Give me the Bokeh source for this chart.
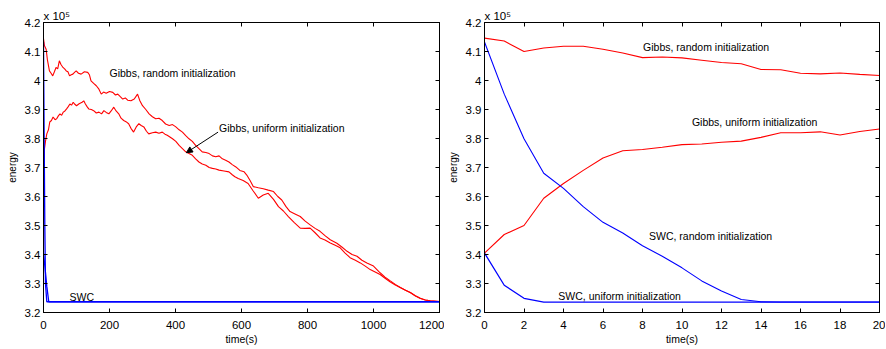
from bokeh.plotting import figure
from bokeh.models import (FixedTicker, LinearAxis, Label, Arrow, NormalHead, Range1d)
from bokeh.layouts import row
from bokeh.embed import file_html
from bokeh.resources import INLINE

# ---------------- data (energy in units of 1e5) ----------------
# Left panel: long run
gibbs_rand_t = [0, 3, 8, 12, 18, 23, 28, 33, 38, 43, 48, 53, 59, 64, 69, 74, 79, 84, 89, 94, 99, 106, 114,
                124, 134, 139, 144, 152, 160, 168, 175, 182, 190, 200, 210, 218, 225, 232, 240, 248, 255,
                265, 275, 285, 292, 300, 310, 320, 330, 340, 350, 360, 370, 381, 391, 401, 411, 421, 431,
                441, 451, 461, 471, 481, 492, 502, 512, 522, 532, 542, 552, 562, 572, 583, 595, 608, 616,
                626, 636, 651, 666, 681, 697, 710, 722, 735, 747, 762, 778, 793, 808, 823, 838, 853, 869,
                889, 905, 920, 935, 950, 965, 980, 1000, 1020, 1035, 1051, 1066, 1081, 1097, 1112, 1127,
                1142, 1157, 1172, 1200]
gibbs_rand_v = [4.145, 4.12, 4.108, 4.07, 4.033, 4.025, 4.016, 4.03, 4.045, 4.04, 4.068, 4.055, 4.045, 4.04,
                4.033, 4.03, 4.016, 4.02, 4.022, 4.028, 4.033, 4.025, 4.022, 4.03, 4.028, 4.02, 3.999, 3.99,
                3.982, 3.97, 3.953, 3.96, 3.956, 3.962, 3.959, 3.95, 3.953, 3.945, 3.936, 3.94, 3.932, 3.93,
                3.936, 3.953, 3.93, 3.913, 3.9, 3.885, 3.875, 3.868, 3.87, 3.862, 3.85, 3.845, 3.848, 3.84,
                3.83, 3.822, 3.81, 3.799, 3.79, 3.776, 3.765, 3.754, 3.752, 3.748, 3.74, 3.737, 3.74, 3.73,
                3.725, 3.719, 3.71, 3.702, 3.69, 3.685, 3.674, 3.655, 3.634, 3.63, 3.627, 3.622, 3.617, 3.6,
                3.588, 3.565, 3.548, 3.54, 3.531, 3.515, 3.502, 3.49, 3.48, 3.465, 3.451, 3.439, 3.425,
                3.411, 3.4, 3.394, 3.38, 3.371, 3.36, 3.337, 3.322, 3.309, 3.297, 3.286, 3.277, 3.269,
                3.257, 3.248, 3.243, 3.24, 3.238]

gibbs_unif_t = [0, 1, 3, 6, 10, 15, 19, 24, 29, 35, 40, 45, 50, 55, 60, 65, 70, 75, 80, 85, 90, 95, 100,
                108, 117, 122, 127, 132, 137, 145, 152, 160, 168, 176, 183, 190, 198, 205, 213, 220, 228,
                235, 243, 250, 258, 265, 273, 281, 289, 296, 304, 312, 319, 330, 340, 350, 360, 368, 375,
                383, 391, 401, 411, 421, 431, 441, 451, 461, 471, 481, 492, 502, 512, 522, 532, 547, 562,
                572, 580, 590, 605, 620, 635, 651, 666, 681, 697, 712, 727, 742, 760, 778, 793, 808, 823,
                838, 853, 869, 884, 899, 914, 929, 945, 960, 975, 990, 1005, 1020, 1035, 1051, 1066, 1081,
                1097, 1112, 1127, 1142, 1157, 1172, 1200]
gibbs_unif_v = [3.405, 3.6, 3.765, 3.79, 3.816, 3.83, 3.857, 3.862, 3.874, 3.865, 3.868, 3.878, 3.885, 3.88,
                3.891, 3.895, 3.902, 3.91, 3.919, 3.915, 3.925, 3.918, 3.913, 3.92, 3.925, 3.93, 3.919, 3.91,
                3.902, 3.9, 3.896, 3.888, 3.891, 3.885, 3.896, 3.89, 3.885, 3.895, 3.908, 3.895, 3.885, 3.87,
                3.862, 3.858, 3.851, 3.835, 3.822, 3.84, 3.851, 3.845, 3.84, 3.825, 3.816, 3.82, 3.822,
                3.818, 3.822, 3.815, 3.811, 3.805, 3.799, 3.79, 3.776, 3.765, 3.754, 3.748, 3.742, 3.73,
                3.719, 3.712, 3.708, 3.7, 3.697, 3.695, 3.691, 3.688, 3.685, 3.675, 3.668, 3.662, 3.655,
                3.645, 3.62, 3.594, 3.605, 3.611, 3.59, 3.565, 3.55, 3.531, 3.51, 3.491, 3.49, 3.491, 3.475,
                3.457, 3.45, 3.44, 3.432, 3.423, 3.405, 3.389, 3.38, 3.371, 3.36, 3.348, 3.34, 3.331, 3.318,
                3.305, 3.295, 3.286, 3.277, 3.268, 3.258, 3.249, 3.243, 3.24, 3.238]

swc_rand_long_t = [0, 2, 4, 6, 10, 1200]
swc_rand_long_v = [4.133, 3.8, 3.5, 3.3, 3.237, 3.237]
swc_unif_long_t = [0, 5, 10, 16, 1200]
swc_unif_long_v = [3.405, 3.35, 3.29, 3.237, 3.237]

# Right panel: first 20 seconds
short_t = list(range(21))
gibbs_rand_short = [4.146, 4.136, 4.100, 4.112, 4.118, 4.118, 4.108, 4.095, 4.079, 4.081, 4.078,
                    4.070, 4.062, 4.058, 4.038, 4.037, 4.025, 4.023, 4.026, 4.021, 4.017]
gibbs_unif_short = [3.405, 3.469, 3.500, 3.594, 3.645, 3.690, 3.733, 3.758, 3.762, 3.770, 3.779,
                    3.781, 3.787, 3.791, 3.804, 3.820, 3.820, 3.823, 3.812, 3.824, 3.833]
swc_rand_short = [4.133, 3.953, 3.799, 3.680, 3.628, 3.565, 3.511, 3.474, 3.430, 3.394, 3.354,
                  3.309, 3.274, 3.245, 3.237, 3.236, 3.236, 3.236, 3.236, 3.236, 3.236]
swc_unif_short = [3.405, 3.294, 3.249, 3.236, 3.236, 3.236, 3.236, 3.236, 3.236, 3.236, 3.236,
                  3.236, 3.236, 3.236, 3.236, 3.236, 3.236, 3.236, 3.236, 3.236, 3.236]

y_ticks = [3.2, 3.3, 3.4, 3.5, 3.6, 3.7, 3.8, 3.9, 4.0, 4.1, 4.2]
y_tick_labels = ["3.2", "3.3", "3.4", "3.5", "3.6", "3.7", "3.8", "3.9", "4", "4.1", "4.2"]
x_ticks_long = [0, 200, 400, 600, 800, 1000, 1200]
x_ticks_short = [0, 2, 4, 6, 8, 10, 12, 14, 16, 18, 20]

RED = "#ff0000"
BLUE = "#0000ff"
FONT = "Liberation Sans"


def make_fig(width, border_left, border_right, xmax, xticks):
    p = figure(width=width, height=347, output_backend="svg", toolbar_location=None,
               x_range=Range1d(0, xmax), y_range=Range1d(3.2, 4.2),
               min_border_left=border_left, min_border_right=border_right,
               min_border_top=22, min_border_bottom=33)
    p.grid.visible = False
    p.outline_line_color = "black"
    p.outline_line_width = 1
    p.background_fill_color = "white"
    p.border_fill_color = "white"
    # multiplier shown as a left-aligned title
    p.title.text = "x 10\u2075"
    p.title.align = "left"
    p.title.offset = 0
    p.title.standoff = 1
    p.title.text_font = FONT
    p.title.text_font_size = "11.5px"
    p.title.text_font_style = "normal"
    p.title.text_color = "black"
    for ax in p.xaxis:
        ax.ticker = FixedTicker(ticks=xticks)
        ax.major_label_standoff = 8
        ax.axis_label = "time(s)"
        ax.axis_label_standoff = 1
        ax.axis_label_text_font_size = "10.5px"
    for ax in p.yaxis:
        ax.ticker = FixedTicker(ticks=y_ticks)
        ax.major_label_overrides = dict(zip(y_ticks, y_tick_labels))
        ax.major_label_standoff = 3
        ax.axis_label = "energy"
        ax.axis_label_standoff = 4
        ax.axis_label_text_font_size = "10px"
    for ax in p.xaxis + p.yaxis:
        ax.major_tick_in = 4
        ax.major_tick_out = 0
        ax.minor_tick_line_color = None
        ax.major_label_text_font = FONT
        ax.major_label_text_font_size = "11.5px"
        ax.major_label_text_color = "black"
        ax.axis_label_text_font = FONT
        ax.axis_label_text_font_style = "normal"
        ax.axis_label_text_color = "black"
        ax.axis_line_color = "black"
    top = LinearAxis(ticker=FixedTicker(ticks=xticks), major_tick_in=4, major_tick_out=0,
                     minor_tick_line_color=None, major_label_standoff=0,
                     major_label_overrides={t: "" for t in xticks})
    right = LinearAxis(ticker=FixedTicker(ticks=y_ticks), major_tick_in=4, major_tick_out=0,
                       minor_tick_line_color=None, major_label_standoff=0,
                       major_label_overrides={t: "" for t in y_ticks})
    p.add_layout(top, "above")
    p.add_layout(right, "right")
    return p


def note(p, x, y, txt):
    p.add_layout(Label(x=x, y=y, text=txt, text_font=FONT, text_font_size="10.5px",
                       text_baseline="middle", text_align="left", text_color="black"))


# ---------------- left panel ----------------
p1 = make_fig(444, 43, 5, 1200, x_ticks_long)
p1.line(gibbs_rand_t, gibbs_rand_v, line_color=RED, line_width=1.1)
p1.line(gibbs_unif_t, gibbs_unif_v, line_color=RED, line_width=1.1)
p1.line(swc_rand_long_t, swc_rand_long_v, line_color=BLUE, line_width=1.3)
p1.line(swc_unif_long_t, swc_unif_long_v, line_color=BLUE, line_width=1.3)
note(p1, 200, 4.025, "Gibbs, random initialization")
note(p1, 532, 3.837, "Gibbs, uniform initialization")
note(p1, 79, 3.255, "SWC")
p1.add_layout(Arrow(end=NormalHead(size=6, fill_color="black", line_color="black"),
                    x_start=529, y_start=3.822, x_end=433, y_end=3.751,
                    line_color="black", line_width=1))

# ---------------- right panel ----------------
p2 = make_fig(441, 39, 6, 20, x_ticks_short)
p2.line(short_t, gibbs_rand_short, line_color=RED, line_width=1.1)
p2.line(short_t, gibbs_unif_short, line_color=RED, line_width=1.1)
p2.line(short_t, swc_rand_short, line_color=BLUE, line_width=1.1)
p2.line(short_t, swc_unif_short, line_color=BLUE, line_width=1.3)
note(p2, 8.03, 4.114, "Gibbs, random initialization")
note(p2, 10.5, 3.858, "Gibbs, uniform initialization")
note(p2, 8.33, 3.464, "SWC, random initialization")
note(p2, 3.74, 3.258, "SWC, uniform initialization")

layout = row(p1, p2)
open("out.html", "w").write(file_html(layout, INLINE))
